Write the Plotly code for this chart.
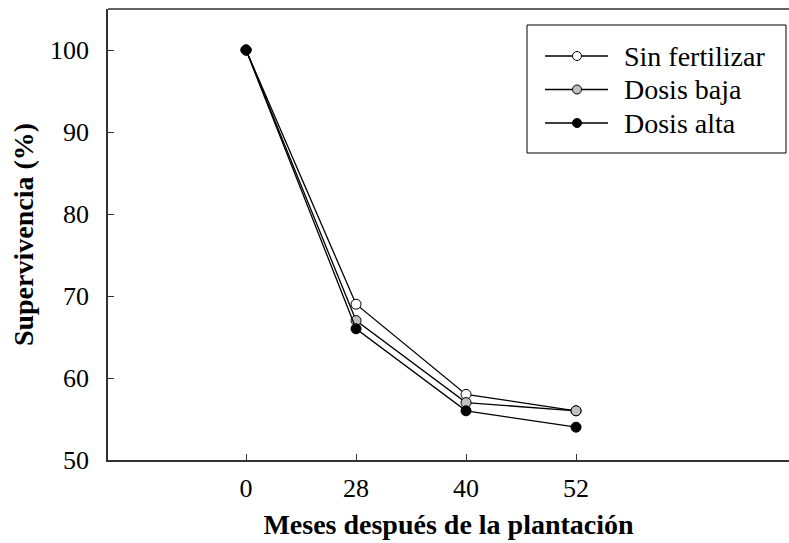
import plotly.graph_objects as go

meses = ["0", "28", "40", "52"]
sin_fertilizar = [100, 69, 58, 56]
dosis_baja = [100, 67, 57, 56]
dosis_alta = [100, 66, 56, 54]

series = [
    ("Sin fertilizar", sin_fertilizar, "white"),
    ("Dosis baja", dosis_baja, "#c0c0c0"),
    ("Dosis alta", dosis_alta, "black"),
]

FONT = "'Liberation Serif', 'Times New Roman', Times, serif"
W, H = 789, 543
ML, MR, MT, MB = 108, 0, 9, 83
PW, PH = W - ML - MR, H - MT - MB


def px(x):
    return (x - ML) / PW


def py(y):
    return (H - MB - y) / PH


fig = go.Figure()
for name, vals, col in series:
    fig.add_trace(go.Scatter(
        x=meses, y=vals, name=name, mode="lines+markers", showlegend=False,
        line=dict(color="black", width=1.3),
        marker=dict(size=10, color=col, line=dict(color="black", width=1)),
    ))

# legend drawn as box + sample lines + labels
shapes = [
    dict(type="line", xref="paper", yref="paper", x0=0, x1=1, y0=1, y1=1,
         line=dict(color="#333", width=1.5)),
    dict(type="rect", xref="paper", yref="paper", x0=px(527), x1=px(786),
         y0=py(153), y1=py(25), line=dict(color="black", width=1),
         fillcolor="white", layer="above"),
]
annotations = []
row_y = [56, 89.5, 123]
for (name, vals, col), ry in zip(series, row_y):
    shapes.append(dict(type="line", xref="paper", yref="paper",
                       x0=px(545), x1=px(608), y0=py(ry), y1=py(ry),
                       line=dict(color="black", width=1.3), layer="above"))
    shapes.append(dict(type="circle", xref="paper", yref="paper",
                       xsizemode="pixel", ysizemode="pixel",
                       xanchor=px(577), yanchor=py(ry),
                       x0=-4.5, x1=4.5, y0=-4.5, y1=4.5,
                       fillcolor=col, line=dict(color="black", width=1),
                       layer="above"))
    annotations.append(dict(xref="paper", yref="paper", x=px(622), y=py(ry),
                            xanchor="left", yanchor="middle", showarrow=False,
                            text=name, font=dict(family=FONT, size=28, color="black")))

fig.update_layout(
    width=W, height=H,
    margin=dict(l=ML, r=MR, t=MT, b=MB),
    paper_bgcolor="white", plot_bgcolor="white",
    font=dict(family=FONT, size=26, color="black"),
    showlegend=False,
    shapes=shapes, annotations=annotations,
)
fig.update_xaxes(
    type="category", range=[-1.255, 4.936],
    showline=True, linecolor="#333", linewidth=1.5,
    ticks="inside", ticklen=6, tickcolor="#333",
    showgrid=False, zeroline=False, mirror=False,
    ticklabelstandoff=4, tickfont=dict(family=FONT, size=26),
    title=dict(text="<b>Meses después de la plantación</b>", standoff=12,
               font=dict(family=FONT, size=28)),
)
fig.update_yaxes(
    range=[50, 105], tickvals=[50, 60, 70, 80, 90, 100],
    showline=True, linecolor="#333", linewidth=1.5,
    ticks="inside", ticklen=6, tickcolor="#333",
    showgrid=False, zeroline=False,
    ticklabelstandoff=12, tickfont=dict(family=FONT, size=26),
    title=dict(text="<b>Supervivencia (%)</b>", standoff=8,
               font=dict(family=FONT, size=28)),
)
fig.write_html("out.html", config={"displayModeBar": False},
               post_script="document.body.style.margin='0';document.body.style.padding='0';")
